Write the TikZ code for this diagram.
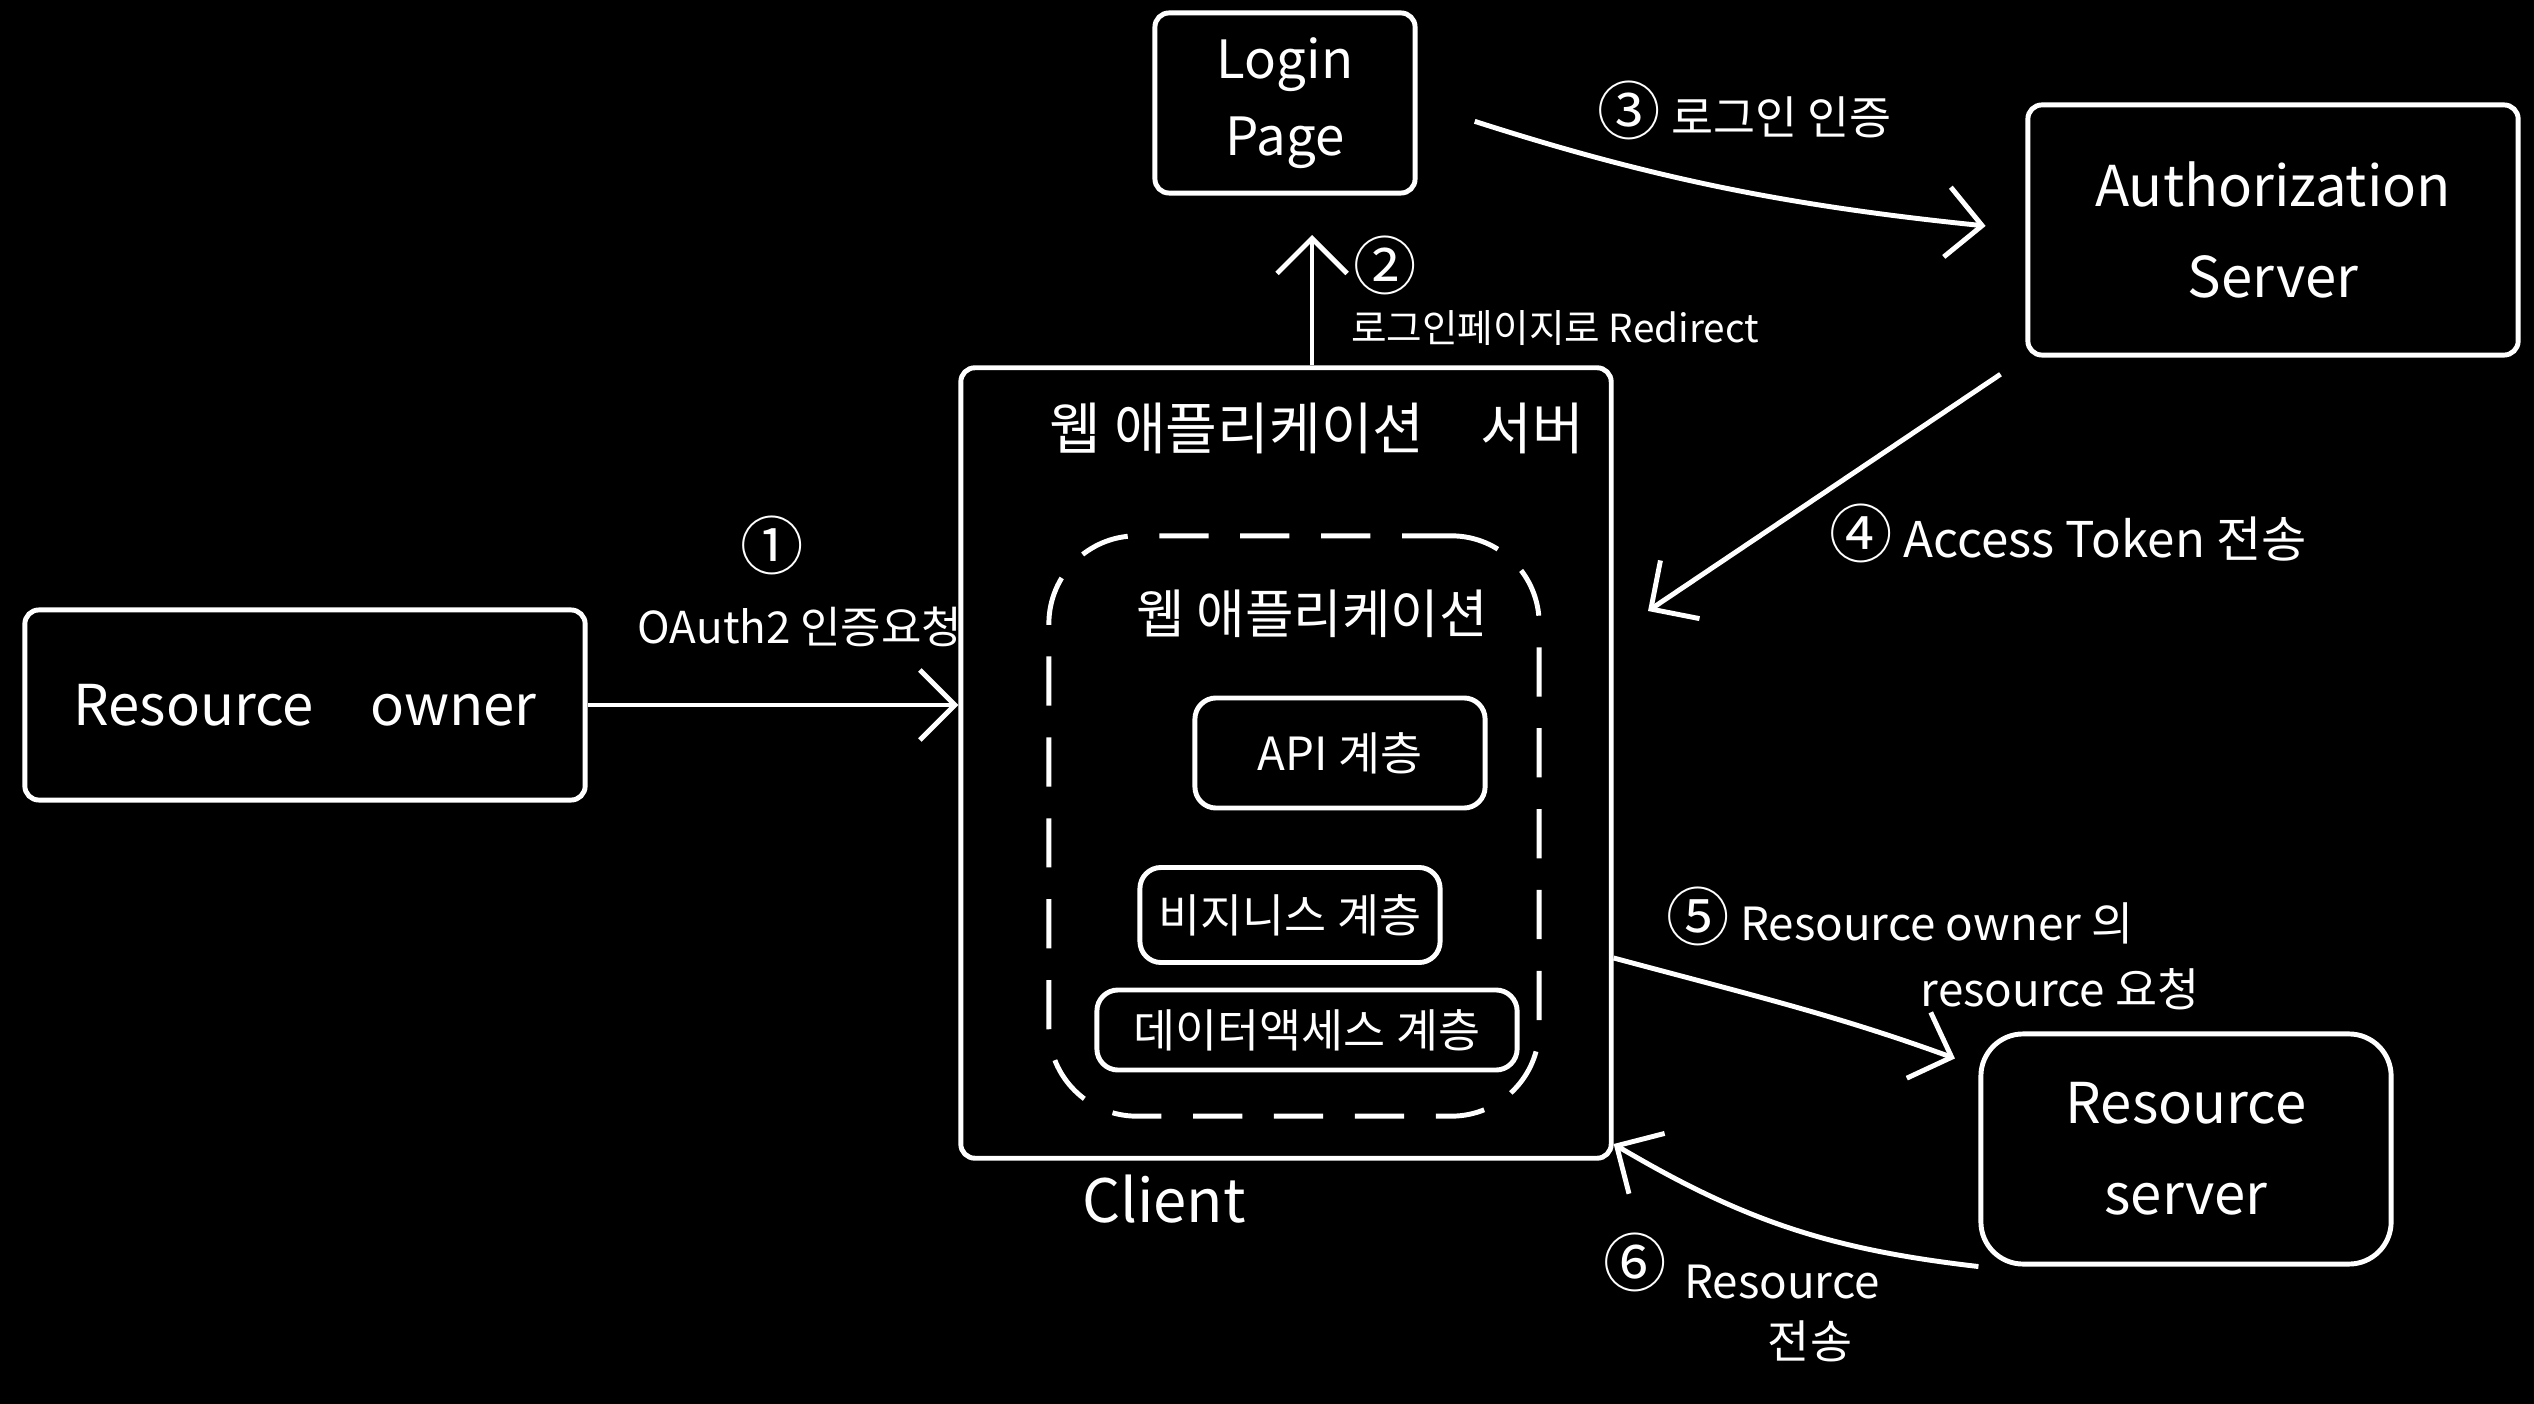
\documentclass[tikz,border=0pt]{standalone}
\usepackage{fontspec}
\setmainfont{Noto Sans CJK KR}
\usetikzlibrary{arrows.meta,positioning}

\newcommand{\stepno}[1]{{\fontsize{18}{18}\selectfont #1}}

\begin{document}
\begin{tikzpicture}[
        x=0.01cm, y=-0.01cm,
        box/.style={draw=white, line width=1.4pt, rounded corners=4pt, text=white, align=center, font=\fontsize{16}{26}\selectfont},
        layer/.style={draw=white, line width=1.4pt, rounded corners=6pt, text=white, font=\fontsize{13}{16}\selectfont},
        lbl/.style={text=white, inner sep=1pt, font=\fontsize{13}{16}\selectfont},
        arr/.style={-{Straight Barb[length=3.5mm,width=7mm]}, line width=1.4pt, white}
    ]
    \fill[black] (0,0) rectangle (2534,1404);
    \useasboundingbox (0,0) rectangle (2534,1404);

    % boxes
    \node[box, minimum width=2.6cm, minimum height=1.8cm, font=\fontsize{15}{22}\selectfont] (login) at (1285,103) {Login\\Page};
    \node[box, minimum width=4.9cm, minimum height=2.5cm] (auth) at (2273,230) {Authorization\\Server};
    \node[box, minimum width=5.6cm, minimum height=1.9cm] (owner) at (305,705) {Resource\quad owner};
    \node[box, minimum width=4.1cm, minimum height=2.3cm, rounded corners=12pt] (rserver) at (2186,1149) {Resource\\server};

    % client with its layers
    \node[box, minimum width=6.5cm, minimum height=7.9cm] (client) at (1286,763) {};
    \node[lbl, font=\fontsize{16}{20}\selectfont] (clienttitle) at (1317,428) {웹 애플리케이션\quad 서버};
    \node[draw=white, line width=1.4pt, dash pattern=on 14pt off 9pt, rounded corners=25pt,
          minimum width=4.9cm, minimum height=5.8cm] (webapp) at (1294,826) {};
    \node[lbl, font=\fontsize{15}{18}\selectfont] (webapptitle) at (1312,614) {웹 애플리케이션};
    \node[layer, minimum width=2.9cm, minimum height=1.1cm] (api) at (1340,753) {API 계층};
    \node[layer, minimum width=3.0cm, minimum height=0.95cm] (biz) at (1290,915) {비지니스 계층};
    \node[layer, minimum width=4.2cm, minimum height=0.8cm] (dao) at (1307,1030) {데이터액세스 계층};
    \node[lbl, font=\fontsize{17}{20}\selectfont] (clientlbl) at (1164,1199) {Client};

    % (1) owner -> client
    \draw[arr] (owner.east) -- (owner.east -| client.west);
    \node[lbl] (n1) at (772,545) {\stepno{①}};
    \node[lbl, font=\fontsize{12.5}{16}\selectfont] (oauthlbl) at (800,627) {OAuth2 인증요청};

    % (2) redirect
    \coordinate (redirtip) at (1312,235);
    \draw[arr] (client.north -| redirtip) -- (redirtip);
    \node[lbl] (n2) at (1385,265) {\stepno{②}};
    \node[lbl, font=\fontsize{11}{14}\selectfont] (redirlbl) at (1555,328) {로그인페이지로 Redirect};

    % (3) login
    \draw[arr, shorten <=0.6cm, shorten >=0.4cm] (login.east) to[bend right=6] (auth.west);
    \node[lbl] (loginlbl) at (1745,110) {\stepno{③} 로그인 인증};

    % (4) token
    \coordinate (tokentip) at (1648,611);
    \draw[arr, shorten <=0.3cm] (auth.south west) -- (tokentip);
    \node[lbl, font=\fontsize{14}{16}\selectfont] (tokenlbl) at (2068,533) {\stepno{④} Access Token 전송};

    % (5) resource request
    \draw[arr, shorten >=0.25cm] (client.east |- 0,958) to[out=-15,in=160] (rserver.west |- 0,1067);
    \node[lbl] (reqlbl) at (1900,916) {\stepno{⑤} Resource owner 의};
    \node[lbl] (reqlbl2) at (2060,989) {resource 요청};

    % (6) resource back
    \draw[arr] (rserver.south west) to[bend left=12] (client.east |- 0,1144);
    \node[lbl] (n6) at (1635,1262) {\stepno{⑥}};
    \node[lbl] (reslbl) at (1782,1282) {Resource};
    \node[lbl] (reslbl2) at (1810,1341) {전송};
\end{tikzpicture}
\end{document}
